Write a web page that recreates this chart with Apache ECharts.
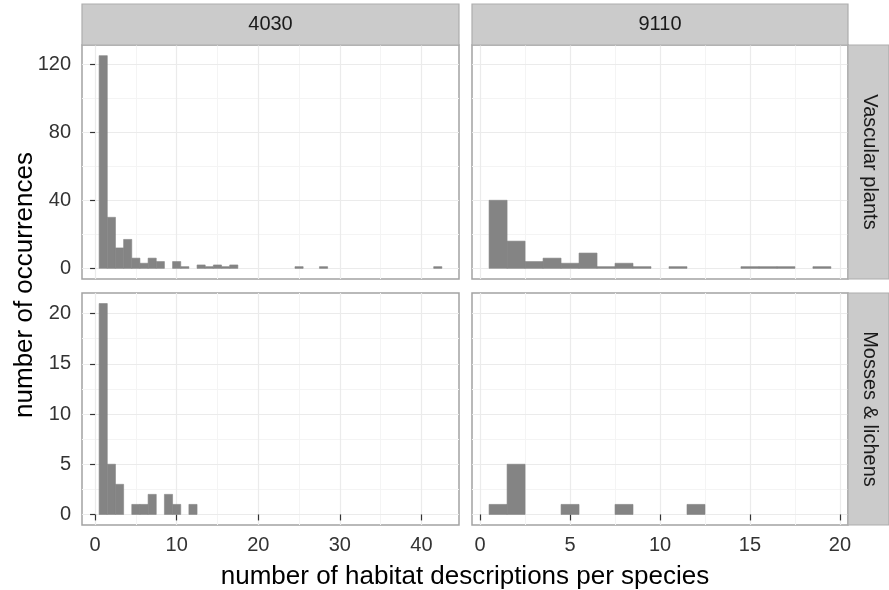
<!DOCTYPE html>
<html>
<head>
<meta charset="utf-8">
<script src="https://cdn.jsdelivr.net/npm/echarts@6/dist/echarts.min.js"></script>
<style>
html,body{margin:0;padding:0;background:#fff;}
#chart{width:889px;height:590px;}
</style>
</head>
<body>
<div id="chart"></div>
<script>
// ---- data ----
const facetCols = ['4030', '9110'];
const facetRows = ['Vascular plants', 'Mosses & lichens'];
const xTitle = 'number of habitat descriptions per species';
const yTitle = 'number of occurrences';
const binWidth = 1;

const vascular4030Bins   = [1, 2, 3, 4, 5, 6, 7, 8, 10, 11, 13, 14, 15, 16, 17, 25, 28, 42];
const vascular4030Counts = [125, 30, 12, 17, 6, 3, 6, 4, 4, 1, 2, 1, 2, 1, 2, 1, 1, 1];
const vascular9110Bins   = [1, 2, 3, 4, 5, 6, 7, 8, 9, 11, 15, 16, 17, 19];
const vascular9110Counts = [40, 16, 4, 6, 3, 9, 1, 3, 1, 1, 1, 1, 1, 1];
const mosses4030Bins     = [1, 2, 3, 5, 6, 7, 9, 10, 12];
const mosses4030Counts   = [21, 5, 3, 1, 1, 2, 2, 1, 1];
const mosses9110Bins     = [1, 2, 5, 8, 12];
const mosses9110Counts   = [1, 5, 1, 1, 1];

const xTicks4030 = [0, 10, 20, 30, 40];
const xMinor4030 = [5, 15, 25, 35];
const xTicks9110 = [0, 5, 10, 15, 20];
const xMinor9110 = [2.5, 7.5, 12.5, 17.5];
const yTicksVascular = [0, 40, 80, 120];
const yMinorVascular = [20, 60, 100];
const yTicksMosses = [0, 5, 10, 15, 20];
const yMinorMosses = [2.5, 7.5, 12.5, 17.5];

// ---- helpers ----
function pairs(bins, counts) { return bins.map((b, i) => [b, counts[i]]); }
function expand(lo, hi) { const d = (hi - lo) * 0.05; return [lo - d, hi + d]; }

const panels = [
  {row: 0, col: 0, data: pairs(vascular4030Bins, vascular4030Counts)},
  {row: 0, col: 1, data: pairs(vascular9110Bins, vascular9110Counts)},
  {row: 1, col: 0, data: pairs(mosses4030Bins, mosses4030Counts)},
  {row: 1, col: 1, data: pairs(mosses9110Bins, mosses9110Counts)}
];

// ranges (ggplot-like 5% expansion, free scales per column/row)
const colRange = [0, 1].map(c => {
  const all = panels.filter(p => p.col === c).flatMap(p => p.data.map(d => d[0]));
  return expand(Math.min(...all) - binWidth / 2, Math.max(...all) + binWidth / 2);
});
const rowRange = [0, 1].map(r => {
  const all = panels.filter(p => p.row === r).flatMap(p => p.data.map(d => d[1]));
  return expand(0, Math.max(...all));
});
const colTicks = [xTicks4030, xTicks9110];
const colMinor = [xMinor4030, xMinor9110];
const rowTicks = [yTicksVascular, yTicksMosses];
const rowMinor = [yMinorVascular, yMinorMosses];

// ---- layout ----
const FONT = "'Liberation Sans', Arial, sans-serif";
const colX = [{left: 82, width: 377}, {left: 472, width: 376}];
const rowY = [{top: 45, height: 234}, {top: 293, height: 232}];
const stripTop = 4, stripRight = 848, stripW = 41;
const BAR = '#848484';
const GRID_MAJOR = '#ebebeb';
const GRID_MINOR = '#f4f4f4';

const grids = [], xAxes = [], yAxes = [], series = [];
panels.forEach((p, i) => {
  grids.push({
    left: colX[p.col].left, top: rowY[p.row].top,
    width: colX[p.col].width, height: rowY[p.row].height,
    show: true, backgroundColor: '#fff', borderColor: '#a2a2a2', borderWidth: 1.5,
    containLabel: false
  });
  const bottomRow = p.row === 1, leftCol = p.col === 0;
  const xr = colRange[p.col], yr = rowRange[p.row];
  xAxes.push({
    type: 'value', gridIndex: i, position: 'bottom', min: xr[0], max: xr[1],
    axisLine: {show: false},
    axisTick: {show: bottomRow, customValues: colTicks[p.col], length: 6, lineStyle: {color: '#333', width: 1.2}},
    axisLabel: {show: bottomRow, customValues: colTicks[p.col], margin: 10,
      fontSize: 20, fontFamily: FONT, color: '#333'},
    splitLine: {show: true, lineStyle: {color: GRID_MAJOR, width: 1.2}},
    z: 1
  });
  xAxes.push({
    type: 'value', gridIndex: i, position: 'top', min: xr[0], max: xr[1],
    axisLine: {show: false},
    axisTick: {show: false, customValues: colMinor[p.col]},
    axisLabel: {show: false},
    splitLine: {show: true, lineStyle: {color: GRID_MINOR, width: 1}},
    z: 0
  });
  yAxes.push({
    type: 'value', gridIndex: i, position: 'left', min: yr[0], max: yr[1],
    axisLine: {show: false},
    axisTick: {show: leftCol, customValues: rowTicks[p.row], length: 5, lineStyle: {color: '#333', width: 1.2}},
    axisLabel: {show: leftCol, customValues: rowTicks[p.row], margin: 11,
      fontSize: 20, fontFamily: FONT, color: '#333'},
    splitLine: {show: true, lineStyle: {color: GRID_MAJOR, width: 1.2}},
    z: 1
  });
  yAxes.push({
    type: 'value', gridIndex: i, position: 'right', min: yr[0], max: yr[1],
    axisLine: {show: false},
    axisTick: {show: false, customValues: rowMinor[p.row]},
    axisLabel: {show: false},
    splitLine: {show: true, lineStyle: {color: GRID_MINOR, width: 1}},
    z: 0
  });
  series.push({
    type: 'custom',
    xAxisIndex: i * 2, yAxisIndex: i * 2,
    data: p.data,
    clip: true,
    renderItem: function (params, api) {
      const x = api.value(0), c = api.value(1);
      const a = api.coord([x - binWidth / 2, c]);
      const b = api.coord([x + binWidth / 2, 0]);
      return {
        type: 'rect',
        shape: {x: a[0], y: a[1], width: b[0] - a[0], height: b[1] - a[1]},
        style: {fill: BAR, stroke: BAR, lineWidth: 0.6}
      };
    },
    z: 5
  });
});

// strips and titles
const graphic = [];
facetCols.forEach((t, c) => {
  graphic.push({type: 'rect', z: 10,
    shape: {x: colX[c].left, y: stripTop, width: colX[c].width, height: rowY[0].top - stripTop},
    style: {fill: '#cbcbcb', stroke: '#adadad', lineWidth: 1.2}});
  graphic.push({type: 'text', z: 11, x: colX[c].left + colX[c].width / 2, y: (stripTop + rowY[0].top) / 2,
    style: {text: t, font: '20px ' + FONT, fill: '#1a1a1a', align: 'center', verticalAlign: 'middle'}});
});
facetRows.forEach((t, r) => {
  graphic.push({type: 'rect', z: 10,
    shape: {x: stripRight, y: rowY[r].top, width: stripW, height: rowY[r].height},
    style: {fill: '#cbcbcb', stroke: '#adadad', lineWidth: 1.2}});
  graphic.push({type: 'text', z: 11, x: stripRight + stripW / 2 + 1, y: rowY[r].top + rowY[r].height / 2,
    rotation: -Math.PI / 2,
    style: {text: t, font: '20px ' + FONT, fill: '#1a1a1a', align: 'center', verticalAlign: 'middle'}});
});
graphic.push({type: 'text', z: 11, x: (colX[0].left + stripRight) / 2, y: 577,
  style: {text: xTitle, font: '26px ' + FONT, fill: '#000', align: 'center', verticalAlign: 'middle'}});
graphic.push({type: 'text', z: 11, x: 25, y: (rowY[0].top + rowY[1].top + rowY[1].height) / 2,
  rotation: Math.PI / 2,
  style: {text: yTitle, font: '26px ' + FONT, fill: '#000', align: 'center', verticalAlign: 'middle'}});

const chart = echarts.init(document.getElementById('chart'), null, {renderer: 'canvas'});
chart.setOption({
  animation: false,
  backgroundColor: '#fff',
  grid: grids,
  xAxis: xAxes,
  yAxis: yAxes,
  series: series,
  graphic: graphic
});
</script>
</body>
</html>
